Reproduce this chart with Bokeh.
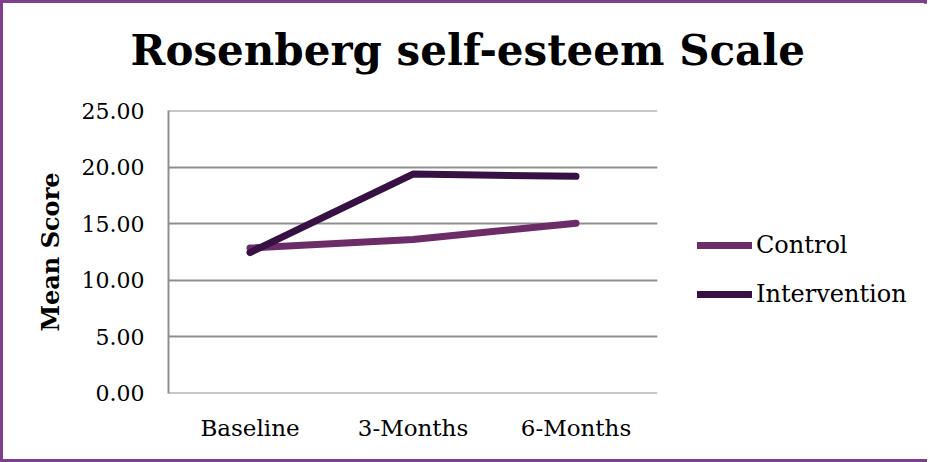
from bokeh.plotting import figure
from bokeh.models import Legend, LegendItem, Title, Range1d, FactorRange
from bokeh.embed import file_html
from bokeh.resources import INLINE

categories = ["Baseline", "3-Months", "6-Months"]
control = [12.85, 13.6, 15.05]
intervention = [12.45, 19.4, 19.2]
y_ticks = [0, 5, 10, 15, 20, 25]
y_tick_labels = ["0.00", "5.00", "10.00", "15.00", "20.00", "25.00"]

CONTROL_COLOR = "#6B2C67"
INTERV_COLOR = "#371044"
GRID = "#8F8F8F"
BORDER = "#7E3F8E"
SERIF = "DejaVu Serif"

p = figure(
    x_range=FactorRange(*categories, range_padding=0),
    y_range=Range1d(-0.03, 25.03),
    frame_width=489, frame_height=283,
    min_border_left=165, min_border_right=273,
    min_border_top=107, min_border_bottom=66,
    output_backend="svg", toolbar_location=None,
    background_fill_color="white", border_fill_color="white",
)
p.styles = {"border": f"3px solid {BORDER}", "max-width": "927px"}
p.outline_line_color = None

r1 = p.line(categories, control, line_color=CONTROL_COLOR, line_width=7, line_cap="round", line_join="round")
r2 = p.line(categories, intervention, line_color=INTERV_COLOR, line_width=7, line_cap="round", line_join="round")

# axes
p.yaxis.ticker = y_ticks
p.yaxis.major_label_overrides = {t: l for t, l in zip(y_ticks, y_tick_labels)}
p.yaxis.axis_label = "Mean Score"
p.yaxis.axis_label_text_font = SERIF
p.yaxis.axis_label_text_font_style = "bold"
p.yaxis.axis_label_text_font_size = "24px"
p.yaxis.axis_label_text_color = "black"
p.yaxis.axis_label_standoff = 14
p.yaxis.major_label_text_font = SERIF
p.yaxis.major_label_text_font_size = "22px"
p.yaxis.major_label_text_color = "black"
p.yaxis.major_label_standoff = 18
p.yaxis.axis_line_color = GRID
p.yaxis.axis_line_width = 2
p.yaxis.major_tick_line_color = None
p.yaxis.minor_tick_line_color = None

p.xaxis.major_label_text_font = SERIF
p.xaxis.major_label_text_font_size = "23px"
p.xaxis.major_label_text_color = "black"
p.xaxis.major_label_standoff = 15
p.xaxis.axis_line_color = None
p.xaxis.major_tick_line_color = None
p.xaxis.minor_tick_line_color = None

p.xgrid.grid_line_color = None
p.ygrid.grid_line_color = GRID
p.ygrid.grid_line_width = 2

# title (a tiny blank title acts as a spacer between the frame and the main title)
p.title = Title(text="Rosenberg self-esteem Scale", align="left", offset=-38, standoff=0,
                text_font=SERIF, text_font_style="bold", text_font_size="42px",
                text_color="black")
p.add_layout(Title(text=" ", text_font_size="2px", standoff=32), "above")

legend = Legend(
    items=[LegendItem(label="Control", renderers=[r1]),
           LegendItem(label="Intervention", renderers=[r2])],
    location=(40, 85),
    glyph_width=55, glyph_height=20, label_height=20, spacing=21,
    label_text_font=SERIF, label_text_font_size="24px", label_text_color="black",
    label_standoff=4, padding=0, margin=0,
    border_line_color=None, background_fill_alpha=0,
)
p.add_layout(legend, "right")

open("out.html", "w").write(file_html(p, INLINE))
